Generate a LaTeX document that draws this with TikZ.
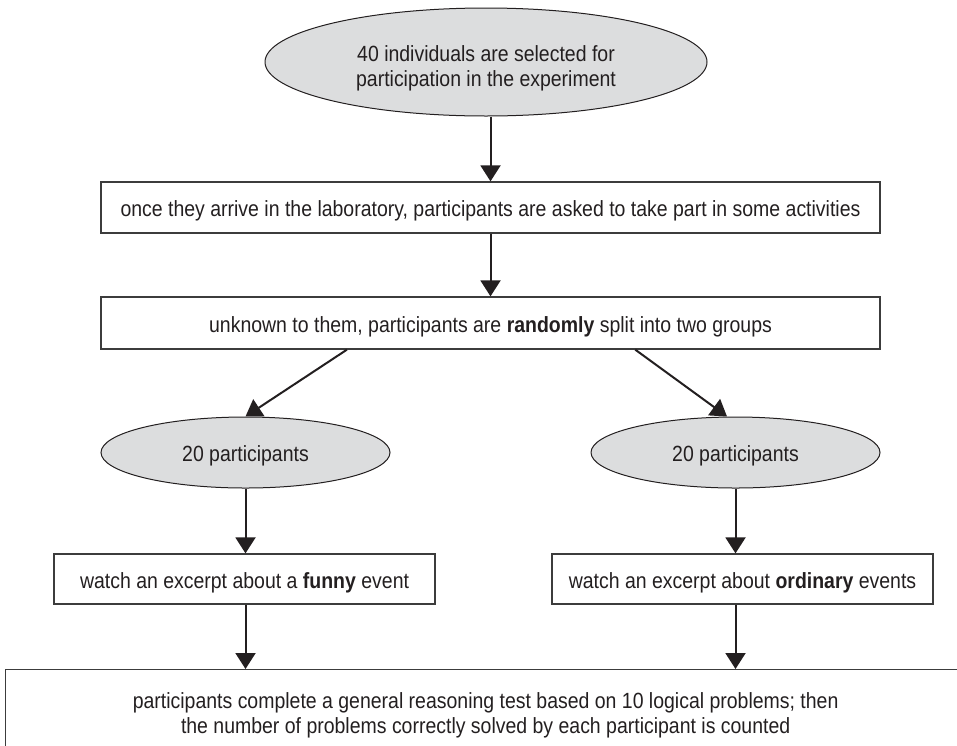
\documentclass[tikz,border=0pt]{standalone}
\usepackage{fontspec}
\setmainfont{Liberation Sans}[FakeStretch=0.885]
\usetikzlibrary{arrows.meta,shapes.geometric,calc}
\definecolor{ink}{HTML}{231F20}
\definecolor{framegray}{HTML}{3C3C3C}
\definecolor{ovalgray}{HTML}{DCDDDE}
\begin{document}
\begin{tikzpicture}[x=1pt,y=-1pt,
  every node/.style={font=\fontsize{22}{25}\selectfont, text=ink, inner sep=0pt},
  oneline/.style={text height=20pt, text depth=1.2pt},
  stepbox/.style={draw=framegray, line width=1.3pt, rectangle, minimum height=51pt},
  oval/.style={ellipse, draw=ink, fill=ovalgray, line width=1pt},
  flow/.style={draw=ink, line width=2pt, -{Triangle[length=16pt,width=20pt]}}]
\clip (0,0) rectangle (957,745);

% stages of the procedure
\node[oval, minimum width=442pt, minimum height=108pt] (start) at (486,62) {};
\node[align=center] (startText) at ($(start.center)+(0,6.5)$)
  {40 individuals are selected for\\participation in the experiment};
\node[stepbox, oneline, minimum width=779pt] (arrive) at (490.5,207.5)
  {once they arrive in the laboratory, participants are asked to take part in some activities};
\node[stepbox, oneline, minimum width=779pt, minimum height=52pt] (split) at (490.5,323)
  {unknown to them, participants are \textbf{randomly} split into two groups};
\node[oval, oneline, minimum width=289pt, minimum height=71pt] (groupA) at (245.5,452.5) {20 participants};
\node[oval, oneline, minimum width=289pt, minimum height=71pt] (groupB) at (735.5,452.5) {20 participants};
\node[stepbox, oneline, minimum width=381pt, minimum height=50pt] (funny) at (244.5,579)
  {watch an excerpt about a \textbf{funny} event};
\node[stepbox, oneline, minimum width=381pt, minimum height=50pt] (ordinary) at (742.5,579)
  {watch an excerpt about \textbf{ordinary} events};
\node[stepbox, anchor=north west, minimum width=960pt, minimum height=91pt, align=center] (test) at (5,669)
  {participants complete a general reasoning test based on 10 logical problems; then\\the number of problems correctly solved by each participant is counted};

% connectors
\draw[flow] (arrive.north |- start.south) -- (arrive.north);
\draw[flow] (arrive.south) -- (split.north);
\draw[flow] ($(split.south west)!0.316!(split.south east)$) -- (groupA.north);
\draw[flow] ($(split.south west)!0.6855!(split.south east)$) -- ($(groupB.north)+(-8.5,0)$);
\draw[flow] (groupA.south) -- (groupA.south |- funny.north);
\draw[flow] (groupB.south) -- (groupB.south |- ordinary.north);
\draw[flow] (groupA.south |- funny.south) -- (groupA.south |- test.north);
\draw[flow] (groupB.south |- ordinary.south) -- (groupB.south |- test.north);
\end{tikzpicture}
\end{document}
